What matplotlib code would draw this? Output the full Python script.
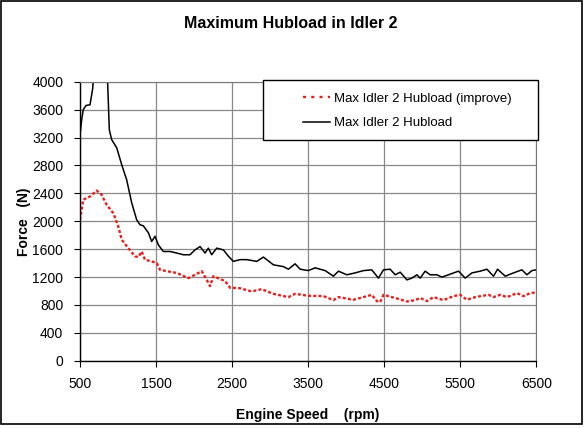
import numpy as np
import matplotlib.pyplot as plt
import matplotlib.patches as patches

plt.rcParams['font.family'] = ['Liberation Sans', 'DejaVu Sans']

# Max Idler 2 Hubload (black solid)
rpm_base = [500, 522, 543, 580, 632, 667, 700, 760, 830, 860, 886, 917, 983, 1049,
            1114, 1180, 1246, 1290, 1333, 1400, 1443, 1487, 1530, 1596, 1684, 1772,
            1860, 1947, 2013, 2079, 2145, 2188, 2232, 2298, 2386, 2451, 2517, 2605,
            2693, 2825, 2912, 3043, 3175, 3241, 3329, 3395, 3504, 3592, 3724, 3833,
            3899, 4009, 4118, 4228, 4337, 4425, 4491, 4579, 4645, 4711, 4799, 4864,
            4930, 4974, 5039, 5105, 5193, 5259, 5346, 5478, 5566, 5654, 5763, 5851,
            5938, 5991, 6092, 6201, 6311, 6377, 6443, 6500]
force_base = [3230, 3450, 3600, 3660, 3670, 3900, 4400, 4500, 4400, 4100, 3310, 3170,
              3054, 2810, 2595, 2265, 2020, 1950, 1935, 1835, 1710, 1785, 1663, 1567,
              1567, 1545, 1520, 1520, 1590, 1638, 1545, 1615, 1520, 1615, 1590, 1500,
              1425, 1450, 1450, 1425, 1487, 1376, 1350, 1313, 1390, 1313, 1293, 1333,
              1293, 1213, 1285, 1233, 1260, 1293, 1304, 1185, 1304, 1313, 1233, 1270,
              1160, 1185, 1233, 1185, 1285, 1233, 1233, 1200, 1233, 1285, 1185, 1260,
              1285, 1313, 1213, 1313, 1213, 1260, 1304, 1233, 1293, 1304]

# Max Idler 2 Hubload (improve) (red dotted)
rpm_imp = [500, 522, 543, 632, 719, 785, 851, 938, 1004, 1049, 1136, 1224, 1267,
           1312, 1355, 1443, 1509, 1553, 1640, 1772, 1925, 2013, 2101, 2167, 2211,
           2254, 2408, 2474, 2605, 2737, 2780, 2890, 3043, 3241, 3329, 3504, 3702,
           3833, 3899, 4096, 4228, 4337, 4403, 4447, 4491, 4600, 4711, 4799, 4908,
           4974, 5061, 5149, 5281, 5412, 5500, 5588, 5697, 5873, 5938, 6026, 6114,
           6246, 6333, 6421, 6500]
force_imp = [2020, 2165, 2310, 2355, 2440, 2380, 2237, 2117, 1926, 1735, 1615, 1497,
             1487, 1567, 1448, 1425, 1400, 1304, 1285, 1260, 1185, 1233, 1285, 1160,
             1070, 1213, 1143, 1047, 1040, 1000, 1000, 1027, 960, 913, 960, 932, 927,
             870, 913, 875, 913, 946, 856, 841, 946, 913, 880, 850, 870, 900, 856,
             913, 870, 927, 946, 875, 913, 946, 913, 946, 913, 970, 927, 970, 980]

x_ticks = [500, 1500, 2500, 3500, 4500, 5500, 6500]
y_ticks = list(range(0, 4001, 400))

fig = plt.figure(figsize=(5.88, 4.28), dpi=100)
ax = fig.add_axes([0.136, 0.157, 0.776, 0.652])

ax.plot(rpm_imp, force_imp, color='#e8201c', lw=1.7, linestyle=(0, (1.3, 0.9)),
        label='Max Idler 2 Hubload (improve)')
ax.plot(rpm_base, force_base, color='black', lw=1.1, label='Max Idler 2 Hubload')

ax.set_xlim(500, 6500)
ax.set_ylim(0, 4000)
ax.set_xticks(x_ticks)
ax.set_yticks(y_ticks)
ax.grid(True, color='#888888', lw=0.9)
ax.set_axisbelow(True)
ax.tick_params(labelsize=10, direction='out', length=4, pad=8)

for side in ['left', 'bottom']:
    ax.spines[side].set_color('black')
    ax.spines[side].set_linewidth(1.0)
for side in ['top', 'right']:
    ax.spines[side].set_color('#777777')

ax.set_xlabel('Engine Speed    (rpm)', fontsize=10, fontweight='bold', labelpad=12)
ax.set_ylabel('Force   (N)', fontsize=10, fontweight='bold')
ax.yaxis.set_label_coords(-0.108, 0.5)
fig.text(0.495, 0.945, 'Maximum Hubload in Idler 2', ha='center', va='center',
         fontsize=11.5, fontweight='bold')

# legend: frameless entries plus a wide white box like the original
box = patches.Rectangle((0.401, 0.792), 0.603, 0.215, transform=ax.transAxes,
                        facecolor='white', edgecolor='black', lw=1.0,
                        clip_on=False, zorder=5)
ax.add_patch(box)
leg = ax.legend(loc='upper left', bbox_to_anchor=(0.465, 1.0), fontsize=9.5,
                frameon=False, borderpad=0.3, labelspacing=0.95,
                handlelength=2.1, handletextpad=0.3)
leg.set_zorder(6)
leg.legend_handles[0].set_linestyle((0, (1.3, 2.2)))

fig.patches.append(patches.Rectangle((0.001, 0.01), 0.989, 0.988, transform=fig.transFigure,
                                     fill=False, edgecolor='black', lw=1.2))

fig.savefig('out.png', dpi=100, facecolor='white')
